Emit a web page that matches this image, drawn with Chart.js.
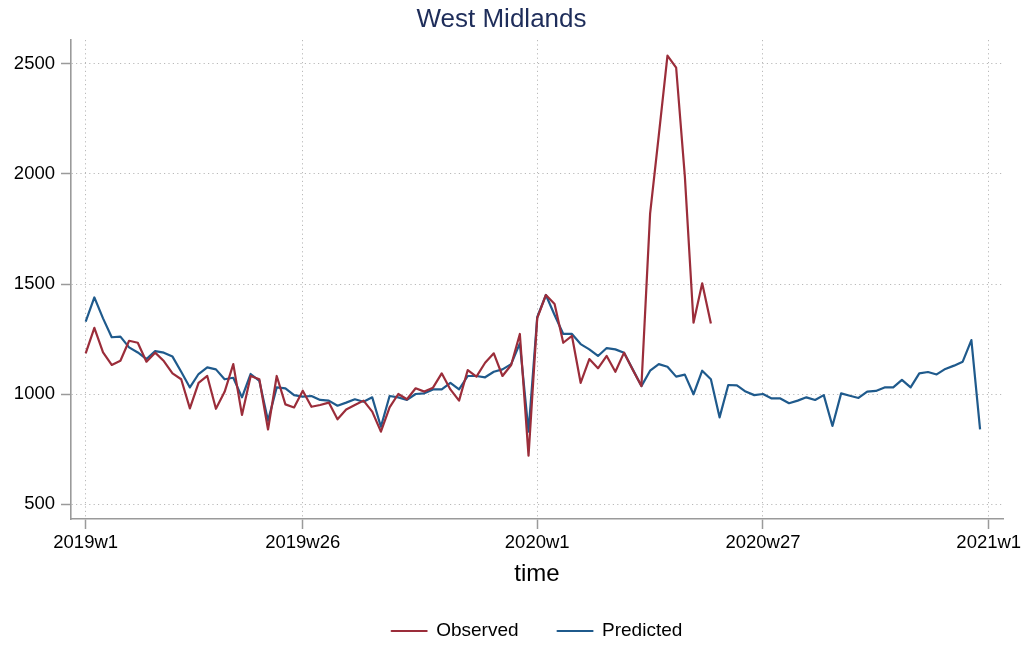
<!DOCTYPE html>
<html>
<head>
<meta charset="utf-8">
<script src="https://cdn.jsdelivr.net/npm/chart.js@4/dist/chart.umd.min.js"></script>
<style>
	html, body { margin: 0; padding: 0; background: #fff; }
	#wrap { width: 1031px; height: 646px; }
</style>
</head>
<body>
<div id="wrap"><canvas id="chart"></canvas></div>
<script>
// weeks counted from 2019w1 (index 0)
const observed = [
	1185, 1301, 1189, 1132, 1151, 1242, 1233, 1147, 1188, 1150,
	1094, 1067, 935, 1051, 1082, 933, 1010, 1136, 905, 1082,
	1067, 839, 1082, 953, 939, 1015, 942, 950, 961, 885,
	930, 950, 970, 920, 829, 939, 1000, 976, 1026, 1011,
	1029, 1094, 1021, 970, 1109, 1079, 1142, 1185, 1082, 1132,
	1273, 720, 1345, 1450, 1409, 1233, 1264, 1051, 1159, 1117,
	1173, 1101, 1188, 1110, 1036, 1820, 2175, 2538, 2483, 1990,
	1324, 1503, 1321,
];

const predicted = [
	1329, 1439, 1344, 1258, 1261, 1212, 1189, 1159, 1195, 1188,
	1170, 1101, 1030, 1091, 1121, 1112, 1067, 1074, 985, 1091,
	1060, 879, 1030, 1026, 995, 988, 991, 973, 970, 947,
	961, 976, 965, 985, 851, 991, 985, 973, 1000, 1003,
	1021, 1021, 1051, 1021, 1082, 1082, 1076, 1101, 1112, 1136,
	1230, 829, 1349, 1450, 1359, 1273, 1273, 1227, 1203, 1173,
	1209, 1203, 1188, 1112, 1036, 1106, 1136, 1124, 1079, 1088,
	999, 1106, 1067, 894, 1041, 1039, 1011, 995, 1000, 980,
	980, 958, 970, 985, 973, 995, 855, 1003, 992, 982,
	1011, 1014, 1030, 1030, 1064, 1030, 1094, 1100, 1089, 1114,
	1129, 1147, 1245, 839,
];

const xTickWeeks = [0, 25, 52, 78, 104];
const xTickLabels = ['2019w1', '2019w26', '2020w1', '2020w27', '2021w1'];
const yTickValues = [500, 1000, 1500, 2000, 2500];

const font = "'Liberation Sans', Arial, Helvetica, sans-serif";
const axisColor = '#9a9a9a';
const gridColor = '#b9b9b9';

function toPoints(values) {
	return values.map((v, i) => ({ x: i, y: v }));
}

const lineDefaults = {
	fill: false,
	tension: 0,
	pointRadius: 0,
	borderWidth: 2.2,
	borderJoinStyle: 'round',
};

const scaleDefaults = {
	grid: {
		color: gridColor,
		lineWidth: 1,
		tickLength: 10,
		tickColor: axisColor,
		tickWidth: 1.5,
	},
	border: {
		color: axisColor,
		width: 1.6,
		dash: [1.2, 3.2],
	},
};

const scales = {
	x: {
		...scaleDefaults,
		type: 'linear',
		min: -1.69,
		max: 105.64,
		afterBuildTicks: (scale) => {
			scale.ticks = xTickWeeks.map((v) => ({ value: v }));
		},
		afterFit: (scale) => {
			scale.height = 63.5;
		},
		ticks: {
			autoSkip: false,
			maxRotation: 0,
			padding: 3,
			color: '#000',
			font: { family: font, size: 18.5 },
			callback: (val, index) => xTickLabels[index],
		},
		title: {
			display: true,
			text: 'time',
			color: '#000',
			font: { family: font, size: 24 },
			padding: { top: 0, bottom: -6 },
		},
	},
	y: {
		...scaleDefaults,
		type: 'linear',
		min: 432,
		max: 2609,
		afterBuildTicks: (scale) => {
			scale.ticks = yTickValues.map((v) => ({ value: v }));
		},
		afterFit: (scale) => {
			scale.width = 71;
		},
		ticks: {
			padding: 6,
			color: '#000',
			font: { family: font, size: 18.5 },
			callback: (val) => String(val),
		},
	},
};

const config = {
	type: 'line',
	data: {
		datasets: [
			{
				...lineDefaults,
				label: 'Observed',
				borderColor: '#9b2d3a',
				backgroundColor: '#9b2d3a',
				data: toPoints(observed),
			},
			{
				...lineDefaults,
				label: 'Predicted',
				borderColor: '#1f5a8c',
				backgroundColor: '#1f5a8c',
				data: toPoints(predicted),
			},
		],
	},
	options: {
		animation: false,
		responsive: true,
		maintainAspectRatio: false,
		layout: {
			padding: { left: 0, right: 28, top: 0, bottom: -4.5 },
		},
		plugins: {
			title: {
				display: true,
				text: 'West Midlands',
				color: '#1e2d5a',
				font: { family: font, size: 26, weight: 'normal' },
				padding: { top: 4.4, bottom: 4.4 },
			},
			legend: {
				position: 'bottom',
				fullSize: false, // centre under the plot area, not the page
				labels: {
					boxWidth: 35,
					boxHeight: 0,
					padding: 39,
					color: '#000',
					font: { family: font, size: 19 },
				},
			},
			tooltip: { enabled: false },
		},
		scales: scales,
	},
};

new Chart(document.getElementById('chart'), config);
</script>
</body>
</html>
